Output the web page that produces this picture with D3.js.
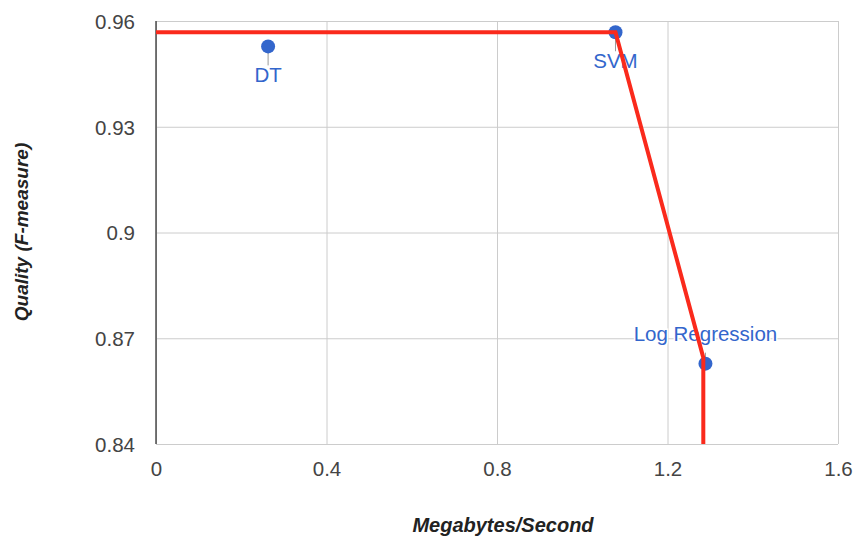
<!DOCTYPE html>
<html>
<head>
<meta charset="utf-8">
<script src="https://cdn.jsdelivr.net/npm/d3@7"></script>
<style>
  html, body { margin: 0; padding: 0; background: #fff; }
  svg { display: block; font-family: "Liberation Sans", Arial, Helvetica, sans-serif; }
</style>
</head>
<body>
<svg id="chart" width="854" height="541"></svg>
<script>
// Classifier quality vs. throughput
const models = ["DT", "SVM", "Log Regression"];
const throughput = [0.263, 1.078, 1.289];      // Megabytes/Second
const fMeasure = [0.9528, 0.9568, 0.8628];     // Quality (F-measure)
const labelSide = ["below", "below", "above"];

// Pareto frontier drawn over the points
const frontierX = [0, 1.078, 1.284, 1.284];
const frontierY = [0.9568, 0.9568, 0.8645, 0.84];

const xTicks = [0, 0.4, 0.8, 1.2, 1.6];
const xTickLabels = ["0", "0.4", "0.8", "1.2", "1.6"];
const yTicks = [0.84, 0.87, 0.9, 0.93, 0.96];
const yTickLabels = ["0.84", "0.87", "0.9", "0.93", "0.96"];

const W = 854, H = 541;
const margin = { top: 21, right: 16, bottom: 97, left: 156 };
const w = W - margin.left - margin.right;
const h = H - margin.top - margin.bottom;

const svg = d3.select("#chart");
const g = svg.append("g").attr("transform", `translate(${margin.left},${margin.top})`);

const x = d3.scaleLinear().domain([0, 1.6]).range([0, w]);
const y = d3.scaleLinear().domain([0.84, 0.96]).range([h, 0]);

// Y axis with horizontal gridlines
const yAxis = g.append("g")
  .call(d3.axisLeft(y).tickValues(yTicks).tickFormat((d, i) => yTickLabels[i])
    .tickSize(-w).tickPadding(21));
yAxis.select(".domain").remove();
yAxis.selectAll("line").attr("stroke", "#cccccc").attr("stroke-width", 1);
yAxis.selectAll("text").attr("fill", "#444").style("font-size", "20.5px")
  .attr("dy", "0.36em");

// X axis with vertical gridlines
const xAxis = g.append("g").attr("transform", `translate(0,${h})`)
  .call(d3.axisBottom(x).tickValues(xTicks).tickFormat((d, i) => xTickLabels[i])
    .tickSize(-h).tickPadding(17));
xAxis.select(".domain").remove();
xAxis.selectAll("line").attr("stroke", "#cccccc").attr("stroke-width", 1);
xAxis.selectAll("text").attr("fill", "#444").style("font-size", "20.5px");

// Left baseline
g.append("line")
  .attr("x1", 0).attr("x2", 0).attr("y1", 0).attr("y2", h)
  .attr("stroke", "#333").attr("stroke-width", 1.3);

// Points, leader lines and annotations
const pts = models.map((m, i) => ({ name: m, x: throughput[i], y: fMeasure[i], side: labelSide[i] }));
const pg = g.append("g");
pts.forEach(p => {
  const cx = x(p.x), cy = y(p.y);
  const below = p.side === "below";
  pg.append("line")
    .attr("x1", cx).attr("x2", cx)
    .attr("y1", below ? cy + 6 : cy - 6)
    .attr("y2", below ? cy + 19 : cy - 11)
    .attr("stroke", "#999").attr("stroke-width", 1);
  pg.append("circle")
    .attr("cx", cx).attr("cy", cy).attr("r", 7)
    .attr("fill", "#3366cc");
  pg.append("text")
    .attr("x", cx).attr("y", below ? cy + 36 : cy - 23)
    .attr("text-anchor", "middle")
    .attr("fill", "#3366cc")
    .attr("stroke", "#fff").attr("stroke-width", 3).attr("paint-order", "stroke")
    .style("font-size", "20.5px")
    .text(p.name);
});

// Frontier line
const line = d3.line().x(d => x(d[0])).y(d => y(d[1]));
g.append("path")
  .datum(frontierX.map((v, i) => [v, frontierY[i]]))
  .attr("d", line)
  .attr("fill", "none")
  .attr("stroke", "#fa2a1c")
  .attr("stroke-width", 4)
  .attr("stroke-linejoin", "miter");

// Axis titles
svg.append("text")
  .attr("x", 503).attr("y", 532)
  .attr("text-anchor", "middle")
  .attr("fill", "#222")
  .style("font-size", "20px").style("font-weight", "bold").style("font-style", "italic")
  .text("Megabytes/Second");

svg.append("text")
  .attr("transform", `translate(28,${232}) rotate(-90)`)
  .attr("text-anchor", "middle")
  .attr("fill", "#222")
  .style("font-size", "19px").style("font-weight", "bold").style("font-style", "italic")
  .text("Quality (F-measure)");
</script>
</body>
</html>
